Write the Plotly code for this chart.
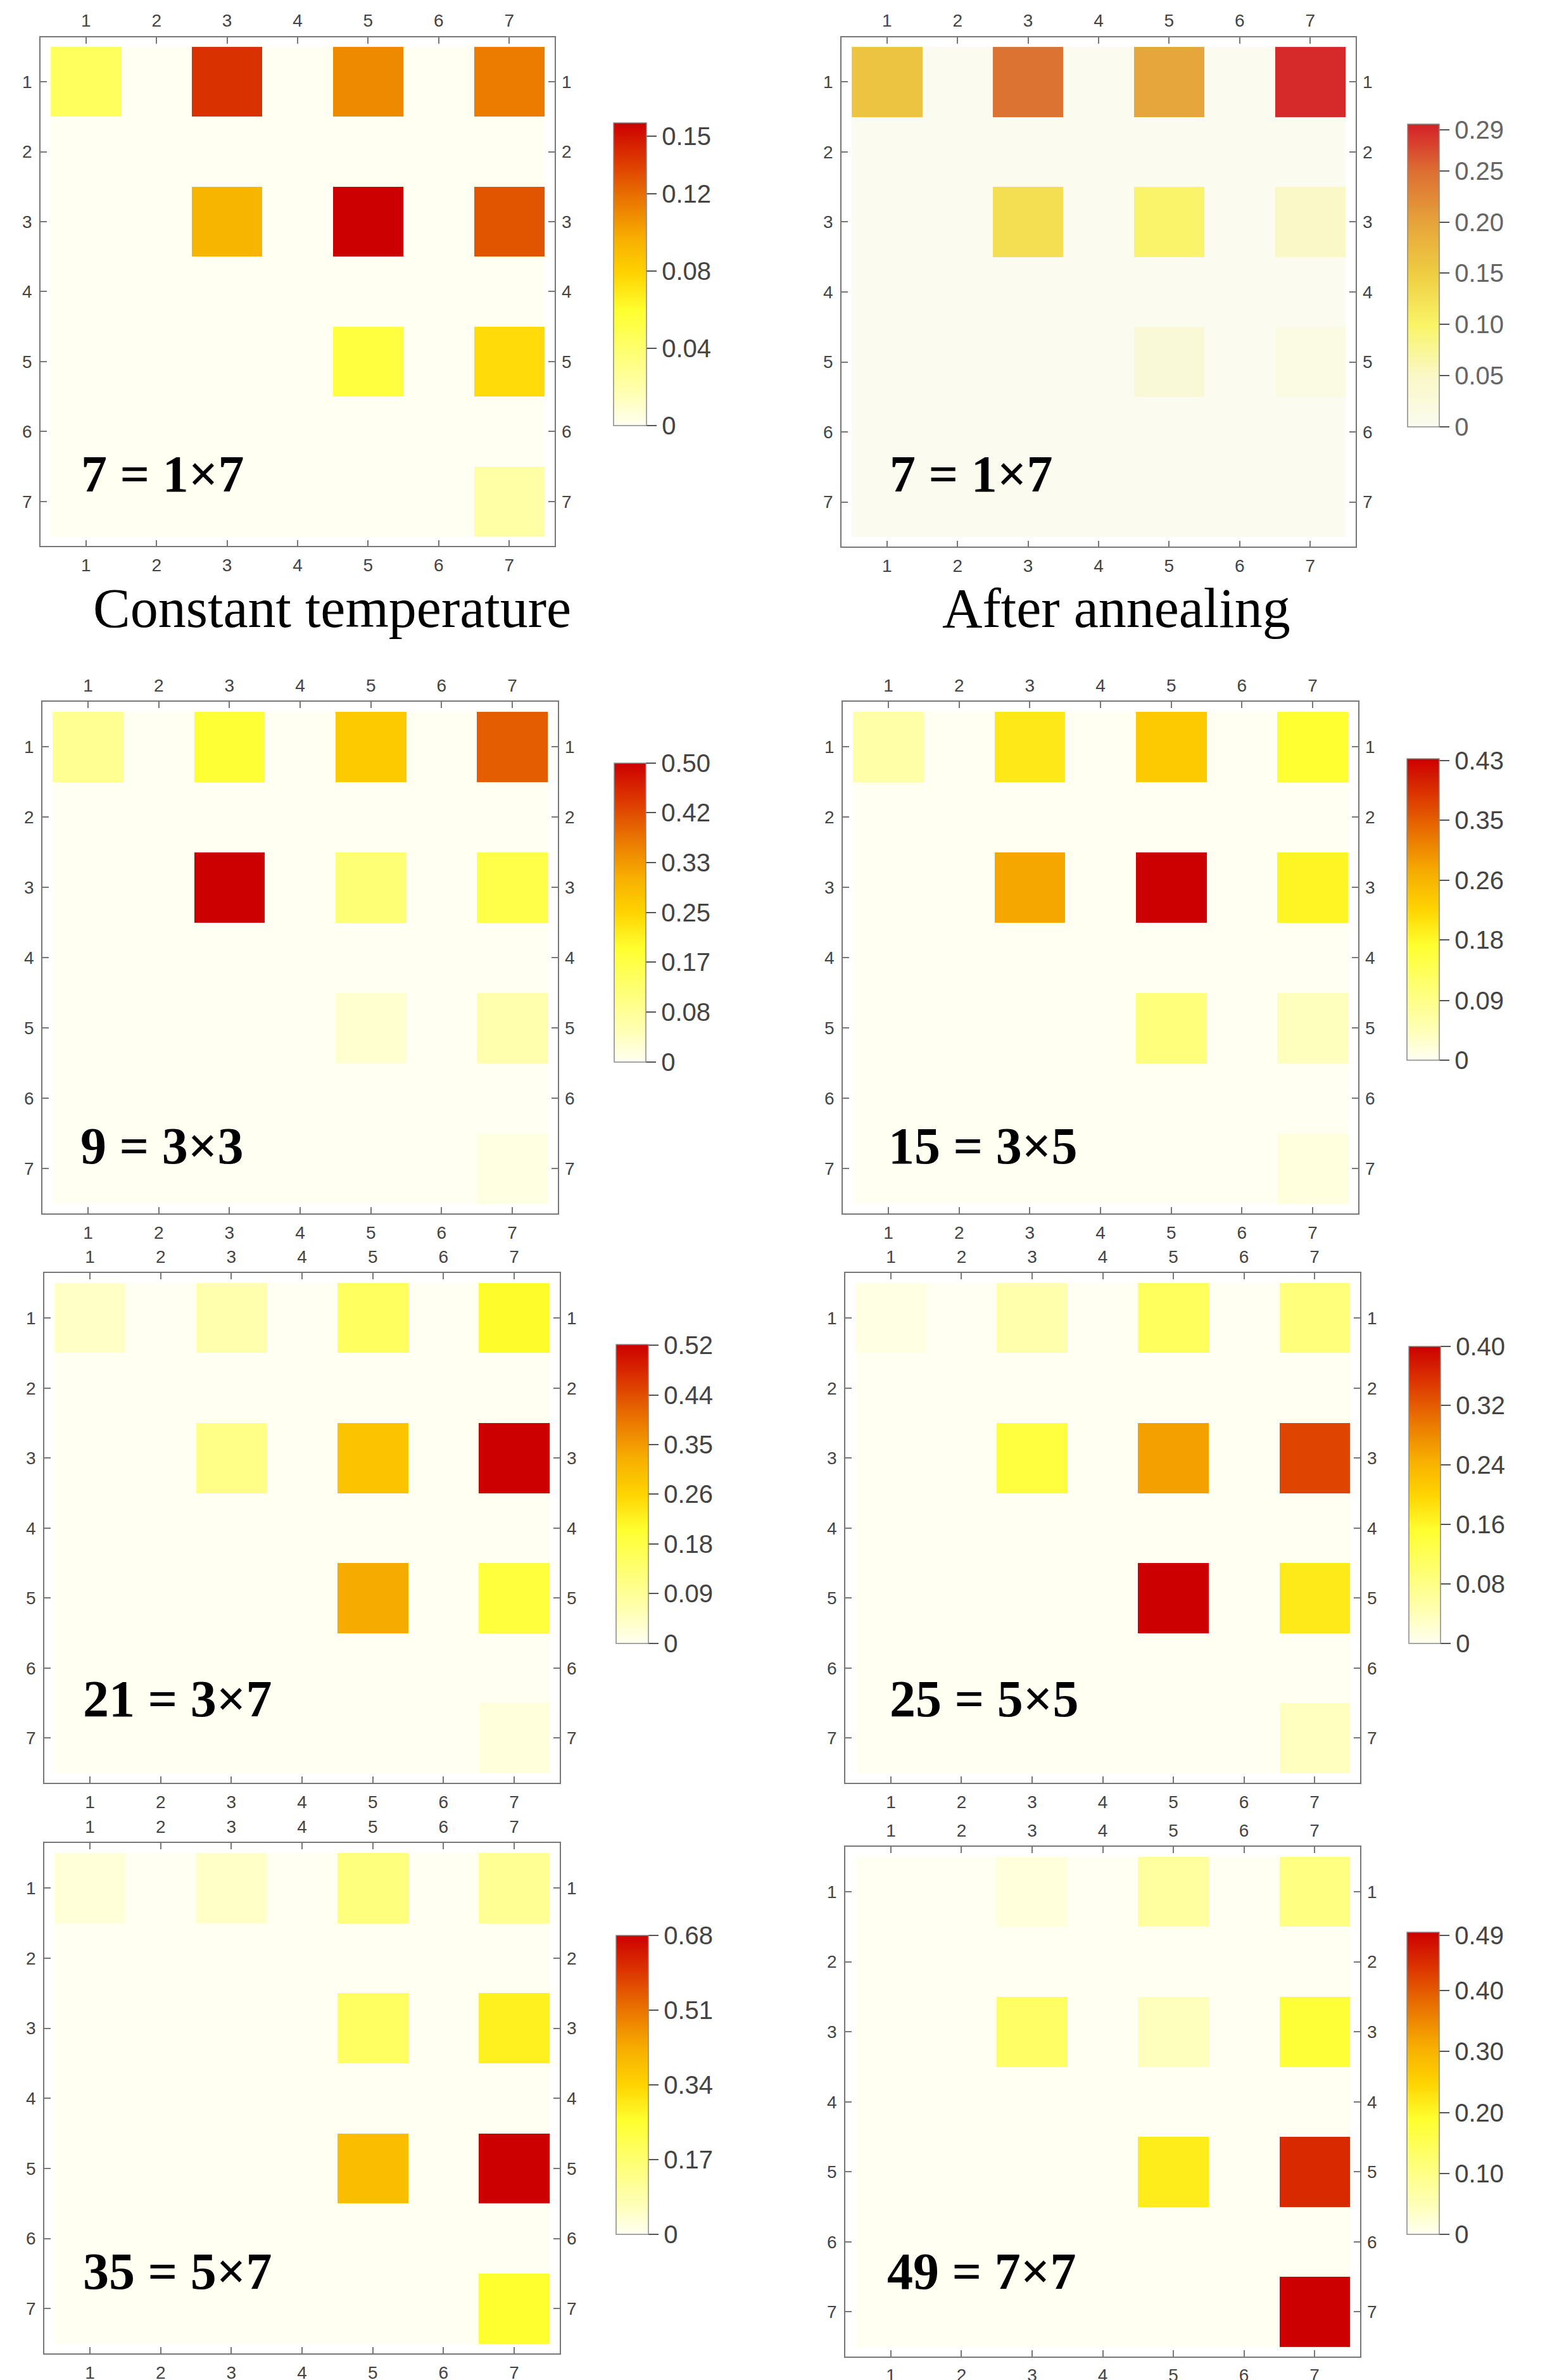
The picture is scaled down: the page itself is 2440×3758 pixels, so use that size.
import plotly.graph_objects as go

W, H = 2440, 3758

# ---------------- data ----------------
grid_idx = [1, 2, 3, 4, 5, 6, 7]
grid_labels = ["1", "2", "3", "4", "5", "6", "7"]

z_7_const = [
    [0.045, 0, 0.140, 0, 0.110, 0, 0.115],
    [0, 0, 0, 0, 0, 0, 0],
    [0, 0, 0.094, 0, 0.157, 0, 0.128],
    [0, 0, 0, 0, 0, 0, 0],
    [0, 0, 0, 0, 0.055, 0, 0.075],
    [0, 0, 0, 0, 0, 0, 0],
    [0, 0, 0, 0, 0, 0, 0.022],
]
z_7_anneal = [
    [0.160, 0, 0.245, 0, 0.197, 0, 0.290],
    [0, 0, 0, 0, 0, 0, 0],
    [0, 0, 0.127, 0, 0.098, 0, 0.050],
    [0, 0, 0, 0, 0, 0, 0],
    [0, 0, 0, 0, 0.030, 0, 0.015],
    [0, 0, 0, 0, 0, 0, 0],
    [0, 0, 0, 0, 0, 0, 0],
]
z_9 = [
    [0.090, 0, 0.185, 0, 0.265, 0, 0.400],
    [0, 0, 0, 0, 0, 0, 0],
    [0, 0, 0.500, 0, 0.120, 0, 0.165],
    [0, 0, 0, 0, 0, 0, 0],
    [0, 0, 0, 0, 0.030, 0, 0.060],
    [0, 0, 0, 0, 0, 0, 0],
    [0, 0, 0, 0, 0, 0, 0.015],
]
z_15 = [
    [0.060, 0, 0.195, 0, 0.235, 0, 0.165],
    [0, 0, 0, 0, 0, 0, 0],
    [0, 0, 0.280, 0, 0.440, 0, 0.180],
    [0, 0, 0, 0, 0, 0, 0],
    [0, 0, 0, 0, 0.100, 0, 0.040],
    [0, 0, 0, 0, 0, 0, 0],
    [0, 0, 0, 0, 0, 0, 0.015],
]
z_21 = [
    [0.040, 0, 0.065, 0, 0.150, 0, 0.205],
    [0, 0, 0, 0, 0, 0, 0],
    [0, 0, 0.105, 0, 0.290, 0, 0.527],
    [0, 0, 0, 0, 0, 0, 0],
    [0, 0, 0, 0, 0.330, 0, 0.185],
    [0, 0, 0, 0, 0, 0, 0],
    [0, 0, 0, 0, 0, 0, 0.020],
]
z_25 = [
    [0.010, 0, 0.050, 0, 0.115, 0, 0.090],
    [0, 0, 0, 0, 0, 0, 0],
    [0, 0, 0.140, 0, 0.260, 0, 0.340],
    [0, 0, 0, 0, 0, 0, 0],
    [0, 0, 0, 0, 0.400, 0, 0.175],
    [0, 0, 0, 0, 0, 0, 0],
    [0, 0, 0, 0, 0, 0, 0.035],
]
z_35 = [
    [0.030, 0, 0.050, 0, 0.150, 0, 0.120],
    [0, 0, 0, 0, 0, 0, 0],
    [0, 0, 0, 0, 0.190, 0, 0.285],
    [0, 0, 0, 0, 0, 0, 0],
    [0, 0, 0, 0, 0.390, 0, 0.680],
    [0, 0, 0, 0, 0, 0, 0],
    [0, 0, 0, 0, 0, 0, 0.260],
]
z_49 = [
    [0, 0, 0.020, 0, 0.075, 0, 0.105],
    [0, 0, 0, 0, 0, 0, 0],
    [0, 0, 0.135, 0, 0.045, 0, 0.180],
    [0, 0, 0, 0, 0, 0, 0],
    [0, 0, 0, 0, 0.215, 0, 0.450],
    [0, 0, 0, 0, 0, 0, 0],
    [0, 0, 0, 0, 0, 0, 0.495],
]

cmax_list = [0.157, 0.296, 0.50, 0.44, 0.527, 0.40, 0.68, 0.495]
cb_tickvals = [
    [0, 0.04, 0.08, 0.12, 0.15],
    [0, 0.05, 0.10, 0.15, 0.20, 0.25, 0.29],
    [0, 0.0833, 0.1667, 0.25, 0.3333, 0.4167, 0.50],
    [0, 0.087, 0.175, 0.262, 0.35, 0.437],
    [0, 0.0875, 0.175, 0.2625, 0.35, 0.4375, 0.525],
    [0, 0.08, 0.16, 0.24, 0.32, 0.40],
    [0, 0.17, 0.34, 0.51, 0.68],
    [0, 0.10, 0.20, 0.30, 0.40, 0.49],
]
cb_ticktext = [
    ["0", "0.04", "0.08", "0.12", "0.15"],
    ["0", "0.05", "0.10", "0.15", "0.20", "0.25", "0.29"],
    ["0", "0.08", "0.17", "0.25", "0.33", "0.42", "0.50"],
    ["0", "0.09", "0.18", "0.26", "0.35", "0.43"],
    ["0", "0.09", "0.18", "0.26", "0.35", "0.44", "0.52"],
    ["0", "0.08", "0.16", "0.24", "0.32", "0.40"],
    ["0", "0.17", "0.34", "0.51", "0.68"],
    ["0", "0.10", "0.20", "0.30", "0.40", "0.49"],
]
panel_labels = ["7 = 1×7", "7 = 1×7", "9 = 3×3", "15 = 3×5",
                "21 = 3×7", "25 = 5×5", "35 = 5×7", "49 = 7×7"]
captions = ["Constant temperature", "After annealing"]

# ---------------- styles / layout ----------------
scale_a = [[0, "#FFFFF2"], [0.1, "#FFFFB8"], [0.25, "#FFFF70"], [0.38, "#FFFF30"],
           [0.5, "#FFD400"], [0.62, "#F7AE00"], [0.76, "#E87000"], [0.88, "#DC3600"],
           [1, "#CC0000"]]
scale_b = [[0, "#FBFBF0"], [0.17, "#FAF8C6"], [0.34, "#FAF466"], [0.51, "#EFCC42"],
           [0.68, "#E6A23A"], [0.85, "#DC6C32"], [1, "#D42028"]]

z_all = [z_7_const, z_7_anneal, z_9, z_15, z_21, z_25, z_35, z_49]
scales = [scale_a, scale_b, scale_a, scale_a, scale_a, scale_a, scale_a, scale_a]
cb_font_col = ["#444", "#666", "#444", "#444", "#444", "#444", "#444", "#444"]

# frame boxes (left, top, right, bottom) in px
frames = [(56, 51, 868, 861), (1321, 51, 2133, 862),
          (59, 1109, 873, 1923), (1323, 1109, 2137, 1923),
          (62, 2018, 876, 2829), (1327, 2018, 2140, 2829),
          (62, 2925, 876, 3737), (1327, 2931, 2140, 3742)]
# colorbars (left, top, width, height) in px
cbars = [(961, 187, 52, 478), (2215, 189, 50, 478),
         (962, 1206, 50, 472), (2214, 1199, 51, 476),
         (965, 2131, 51, 472), (2217, 2134, 50, 469),
         (965, 3072, 51, 472), (2214, 3067, 51, 477)]
# label offsets (from frame left, above frame bottom) in px
label_off = [(62, 115), (74, 116), (58, 107), (70, 107),
             (59, 134), (68, 134), (59, 131), (64, 136)]

XR = [0.355, 7.645]
YR = [7.64, 0.36]
AX_COL = "#777"
TICK_FONT = dict(family="Liberation Sans", size=28, color="#444")

fig = go.Figure()
layout = dict(width=W, height=H, margin=dict(l=0, r=0, t=0, b=0),
              paper_bgcolor="white", plot_bgcolor="white", showlegend=False)
annotations = []

for i in range(8):
    n = i + 1
    xs = "x" if n == 1 else f"x{n}"
    ys = "y" if n == 1 else f"y{n}"
    xk = "xaxis" if n == 1 else f"xaxis{n}"
    yk = "yaxis" if n == 1 else f"yaxis{n}"
    on = n + 8
    l, t, r, b = frames[i]
    cl, ct, cw, ch = cbars[i]
    fig.add_trace(go.Heatmap(
        z=z_all[i], x=grid_idx, y=grid_idx, xaxis=xs, yaxis=ys,
        colorscale=scales[i], zmin=0, zmax=cmax_list[i], zsmooth=False,
        hoverinfo="skip",
        colorbar=dict(x=cl / W, xanchor="left", y=1 - ct / H, yanchor="top",
                      len=ch, lenmode="pixels", thickness=cw, thicknessmode="pixels",
                      xpad=0, ypad=0, outlinewidth=1.5, outlinecolor="#888",
                      ticks="outside", ticklen=16, tickwidth=1.5, tickcolor="#555",
                      tickvals=cb_tickvals[i], ticktext=cb_ticktext[i],
                      tickfont=dict(family="Liberation Sans", size=40, color=cb_font_col[i])),
    ))
    # invisible anchors so the mirrored (top / right) axes get drawn
    fig.add_trace(go.Scatter(x=grid_idx, y=grid_idx, xaxis=f"x{on}", yaxis=ys, mode="markers",
                             marker=dict(opacity=0), hoverinfo="skip", showlegend=False))
    fig.add_trace(go.Scatter(x=grid_idx, y=grid_idx, xaxis=xs, yaxis=f"y{on}", mode="markers",
                             marker=dict(opacity=0), hoverinfo="skip", showlegend=False))
    common = dict(tickvals=grid_idx, ticktext=grid_labels, ticks="inside", ticklen=10,
                  tickwidth=1.5, tickcolor=AX_COL, showgrid=False, zeroline=False,
                  tickfont=TICK_FONT, fixedrange=True)
    layout[xk] = dict(domain=[l / W, r / W], anchor=ys, range=XR, side="bottom",
                      showline=True, linecolor=AX_COL, linewidth=1.5, mirror=True,
                      ticklabelstandoff=4, **common)
    layout[yk] = dict(domain=[1 - b / H, 1 - t / H], anchor=xs, range=YR, side="left",
                      showline=True, linecolor=AX_COL, linewidth=1.5, mirror=True,
                      ticklabelstandoff=6, **common)
    layout[f"xaxis{on}"] = dict(overlaying=xs, anchor=ys, range=XR, side="top",
                                showline=False, ticklabelstandoff=10, **common)
    layout[f"yaxis{on}"] = dict(overlaying=ys, anchor=xs, range=YR, side="right",
                                showline=False, ticklabelstandoff=10, **common)
    ox, oy = label_off[i]
    annotations.append(dict(
        text=f"<b>{panel_labels[i]}</b>", x=(l + ox) / W, y=1 - (b - oy) / H,
        xref="paper", yref="paper", xanchor="left", yanchor="middle", showarrow=False,
        font=dict(family="Liberation Serif", size=82, color="black")))

for cap, cx in zip(captions, [516, 1755]):
    annotations.append(dict(text=cap, x=cx / W, y=1 - 960 / H, xref="paper", yref="paper",
                            xanchor="center", yanchor="middle", showarrow=False,
                            font=dict(family="Liberation Serif", size=88, color="black")))
layout["annotations"] = annotations
fig.update_layout(**layout)
fig.write_html("out.html")
